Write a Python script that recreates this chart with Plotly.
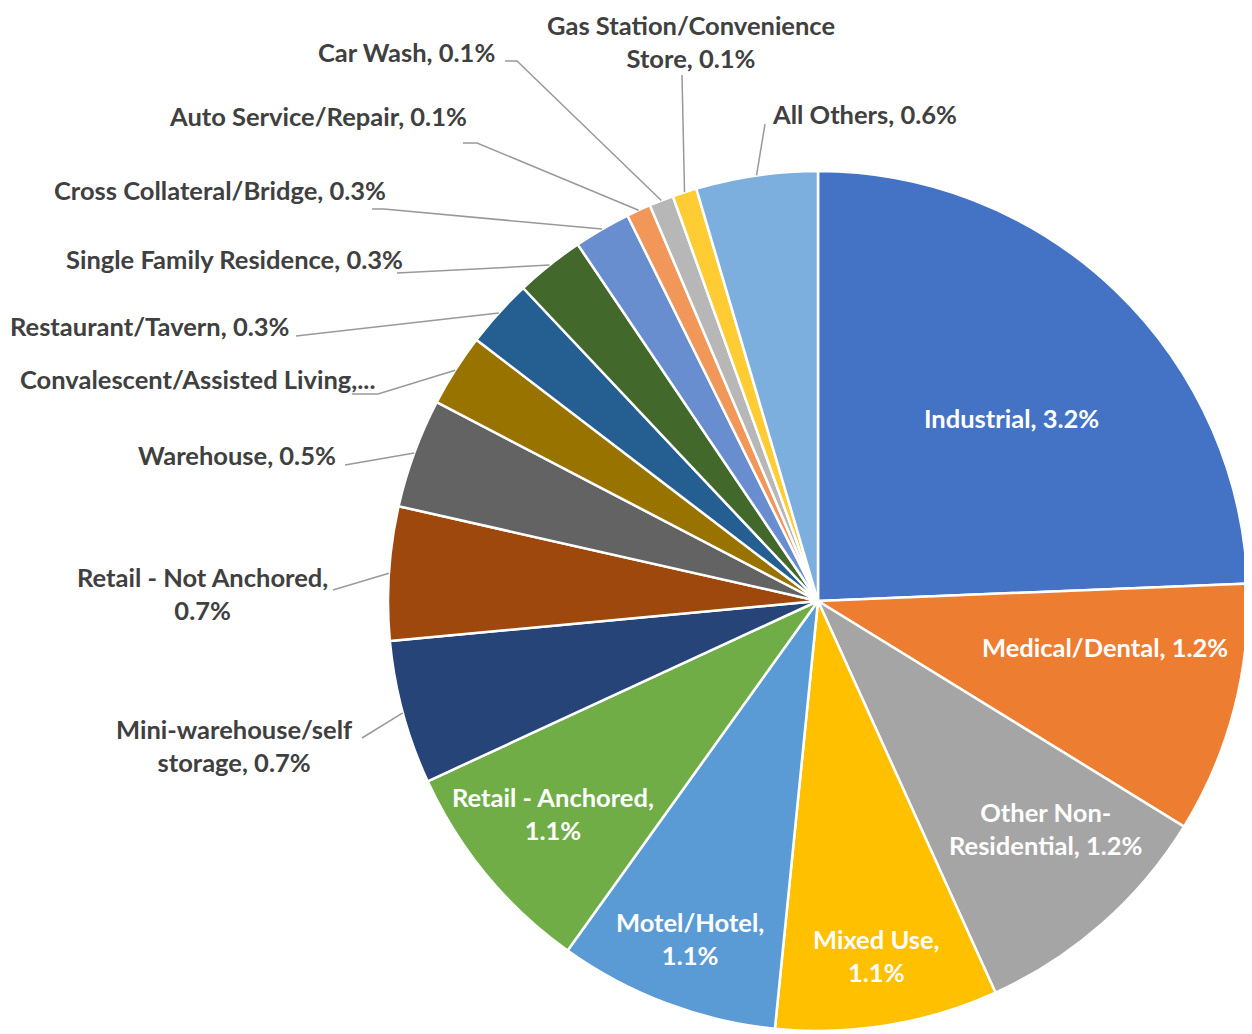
import math

import plotly.graph_objects as go

# slice order is clockwise from 12 o'clock
categories = [
    "Industrial", "Medical/Dental", "Other Non-Residential", "Mixed Use",
    "Motel/Hotel", "Retail - Anchored", "Mini-warehouse/self storage",
    "Retail - Not Anchored", "Warehouse", "Convalescent/Assisted Living",
    "Restaurant/Tavern", "Single Family Residence", "Cross Collateral/Bridge",
    "Auto Service/Repair", "Car Wash", "Gas Station/Convenience Store", "All Others",
]
values = [3.2, 1.24, 1.24, 1.10, 1.09, 1.08, 0.71, 0.66, 0.54, 0.36,
          0.34, 0.34, 0.28, 0.12, 0.12, 0.12, 0.60]
# label text as printed on the chart (line breaks / truncation as in Excel)
label_names = [
    "Industrial", "Medical/Dental", "Other Non-<br>Residential", "Mixed Use,<br>",
    "Motel/Hotel,<br>", "Retail - Anchored,<br>", "Mini-warehouse/self<br>storage",
    "Retail - Not Anchored,<br>", "Warehouse", None,
    "Restaurant/Tavern", "Single Family Residence", "Cross Collateral/Bridge",
    "Auto Service/Repair", "Car Wash", "Gas Station/Convenience<br>Store", "All Others",
]
colors = [
    "#4472C4", "#ED7D31", "#A5A5A5", "#FFC000", "#5B9BD5", "#70AD47",
    "#264478", "#9E480E", "#636363", "#997300", "#255E91", "#43682B",
    "#698ED0", "#F1975A", "#B7B7B7", "#FFCD33", "#7CAFDD",
]

W, H = 1252, 1034
OFF = 8  # page body margin, the figure is drawn 8px in from the corner
CX, CY, R = 818, 601, 430
FONT = "Lato"
SIZE = 25.5
DARK = "#404040"


def label_text(i):
    name = label_names[i]
    if name is None:
        return "Convalescent/Assisted Living,..."
    sep = "" if name.endswith("<br>") else ", "
    return f"{name}{sep}{values[i]:.1f}%"


def px(x, y):
    # screen pixel -> paper coords
    return (x - OFF) / W, 1 - (y - OFF) / H


# mid angle of each slice (deg clockwise from north)
total = sum(values)
mids, acc = [], 0.0
for v in values:
    mids.append((acc + v / 2) / total * 360)
    acc += v


def edge(theta, frac=1.0):
    t = math.radians(theta)
    return CX + R * frac * math.sin(t), CY - R * frac * math.cos(t)


# inside labels: (radius fraction, angle nudge)
inside = {0: (0.62, 2.7), 1: (0.675, -5.6), 2: (0.75, -3.7),
          3: (0.835, 0.0), 4: (0.84, 0.0), 5: (0.79, 0.8)}

# outside labels: (x, y) and xanchor in pixels, leader start (sx, sy, knee)
outside = {
    6: ((355, 745), "right", (362, 738, 0)),
    7: ((330, 593), "right", (333, 590, 0)),
    8: ((338, 455), "right", (345, 465, 0)),
    9: ((377, 379), "right", (352, 394, 26)),
    10: ((291, 326), "right", (296, 336, 0)),
    11: ((405, 259), "right", (397, 273, 0)),
    12: ((388, 190), "right", (372, 209, 12)),
    13: ((469, 116), "right", (463, 143, 14)),
    14: ((497, 52), "right", (505, 61, 12)),
    15: ((691, 42), "center", (682, 75, 0)),
    16: ((770, 114), "left", (765, 124, 0)),
}

x0, y0 = px(CX - R, CY + R)
x1, y1 = px(CX + R, CY - R)
fig = go.Figure(
    go.Pie(
        labels=categories,
        values=values,
        sort=False,
        direction="clockwise",
        rotation=0,
        marker=dict(colors=colors, line=dict(color="white", width=2.5)),
        textinfo="none",
        hoverinfo="label+value",
        showlegend=False,
        domain=dict(x=[x0, x1], y=[y0, y1]),
    )
)

annotations = []
for i, (frac, nudge) in inside.items():
    ax, ay = px(*edge(mids[i] + nudge, frac))
    annotations.append(dict(
        x=ax, y=ay, xref="paper", yref="paper", text=label_text(i),
        showarrow=False, xanchor="center", yanchor="middle", align="center",
        font=dict(family=FONT, size=SIZE, color="white", weight="bold"),
    ))

shapes = []
for i, ((lx, ly), anchor, (sx, sy, knee)) in outside.items():
    ax, ay = px(lx, ly)
    annotations.append(dict(
        x=ax, y=ay, xref="paper", yref="paper", text=label_text(i),
        showarrow=False, xanchor=anchor, yanchor="middle", align="center",
        font=dict(family=FONT, size=SIZE, color=DARK, weight="bold"),
    ))
    pts = [(sx, sy)]
    if knee:
        pts.append((sx + knee, sy))
    pts.append(edge(mids[i]))
    path = "M " + " L ".join("{:.5f},{:.5f}".format(*px(x, y)) for x, y in pts)
    shapes.append(dict(type="path", path=path, xref="paper", yref="paper",
                       line=dict(color="#999999", width=1.5)))

fig.update_layout(
    width=W, height=H,
    margin=dict(l=0, r=0, t=0, b=0),
    paper_bgcolor="white", plot_bgcolor="white",
    annotations=annotations, shapes=shapes,
)
fig.write_html("out.html")
